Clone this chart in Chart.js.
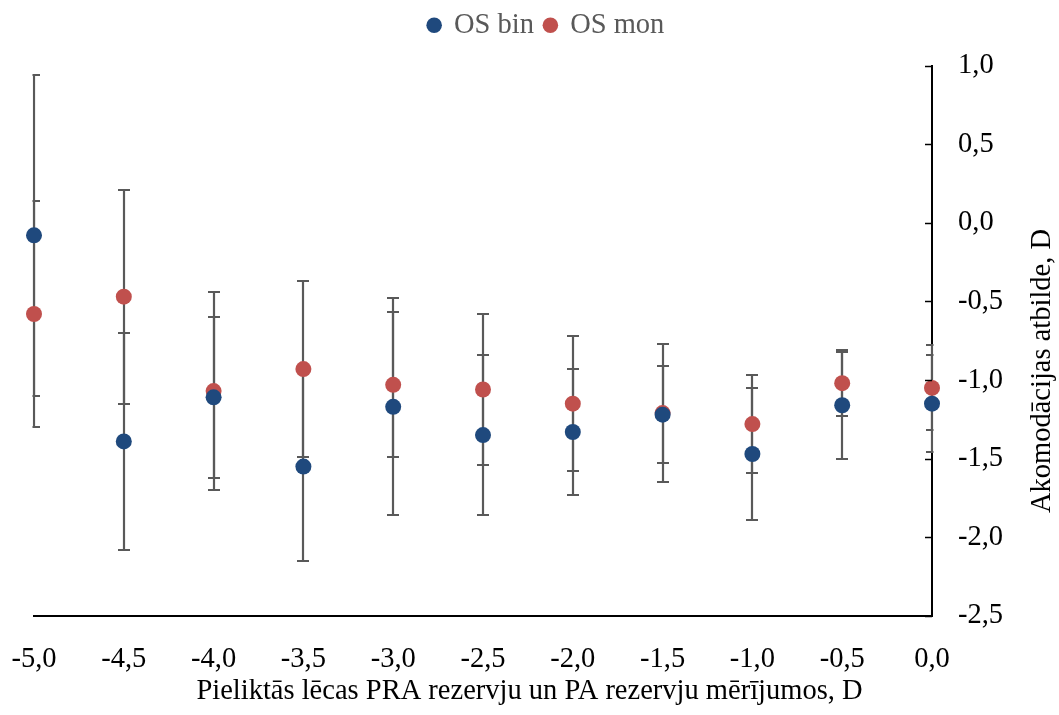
<!DOCTYPE html>
<html>
<head>
<meta charset="utf-8">
<script src="https://cdn.jsdelivr.net/npm/chart.js@4.4.1/dist/chart.umd.min.js"></script>
<style>
  html, body { margin: 0; padding: 0; background: #fff; }
</style>
</head>
<body>
<canvas id="myChart" width="1059" height="715"></canvas>
<script>
// pieliktās lēcas, D
const lenses = [-5.0, -4.5, -4.0, -3.5, -3.0, -2.5, -2.0, -1.5, -1.0, -0.5, 0.0];

// OS bin: vidējā atbilde un kļūda
const binMean = [-0.08, -1.39, -1.11, -1.55, -1.17, -1.35, -1.33, -1.22, -1.47, -1.16, -1.15];
const binErr = [1.02, 0.69, 0.51, 0.60, 0.69, 0.51, 0.40, 0.31, 0.42, 0.34, 0.31];

// OS mon
const monMean = [-0.58, -0.47, -1.07, -0.93, -1.03, -1.06, -1.15, -1.21, -1.28, -1.02, -1.05];
const monErr = [0.72, 0.68, 0.63, 0.56, 0.46, 0.48, 0.43, 0.44, 0.31, 0.21, 0.27];

const yTicks = [-2.5, -2.0, -1.5, -1.0, -0.5, 0.0, 0.5, 1.0];
const xTicks = [-5.0, -4.5, -4.0, -3.5, -3.0, -2.5, -2.0, -1.5, -1.0, -0.5, 0.0];

const xTitle = "Pieliktās lēcas PRA rezervju un PA rezervju mērījumos, D";
const yTitle = "Akomodācijas atbilde, D";

const fmt = (v) => v.toFixed(1).replace(".", ",");
const serif = "'Liberation Serif', 'Times New Roman', serif";
const fontSize = 28.5;
Chart.defaults.font.family = serif;

// error bars (clipped to plot area), drawn under the points
const errorBars = {
  id: "errorBars",
  beforeDatasetsDraw(chart) {
    const { ctx, chartArea, scales } = chart;
    ctx.save();
    ctx.beginPath();
    ctx.rect(chartArea.left - 1.5, chartArea.top, chartArea.right - chartArea.left + 3, chartArea.bottom - chartArea.top);
    ctx.clip();
    ctx.strokeStyle = "#595959";
    ctx.lineWidth = 2.2;
    chart.data.datasets.forEach((ds) => {
      ds.data.forEach((p, i) => {
        const e = ds.errors[i];
        const x = Math.round(scales.x.getPixelForValue(p.x));
        const y1 = Math.round(scales.y.getPixelForValue(p.y + e));
        const y2 = Math.round(scales.y.getPixelForValue(p.y - e));
        ctx.beginPath();
        ctx.moveTo(x, y1);
        ctx.lineTo(x, y2);
        ctx.moveTo(x - 6, y1);
        ctx.lineTo(x + 6, y1);
        ctx.moveTo(x - 6, y2);
        ctx.lineTo(x + 6, y2);
        ctx.stroke();
      });
    });
    ctx.restore();
  },
};

// inside tick marks on the right axis + axis titles
const axisExtras = {
  id: "axisExtras",
  beforeInit(chart) {
    const fit = chart.legend.fit;
    chart.legend.fit = function () {
      fit.bind(chart.legend)();
      this.height += 16;
    };
  },
  afterDraw(chart) {
    const { ctx, chartArea, scales, width } = chart;
    ctx.save();
    ctx.strokeStyle = "#000";
    ctx.lineWidth = 1.5;
    scales.y.ticks.forEach((t) => {
      const y = Math.round(scales.y.getPixelForValue(t.value)) + 0.5;
      ctx.beginPath();
      ctx.moveTo(chartArea.right - 7, y);
      ctx.lineTo(chartArea.right, y);
      ctx.stroke();
    });
    ctx.fillStyle = "#000";
    ctx.font = fontSize + "px " + serif;
    ctx.textAlign = "center";
    ctx.textBaseline = "middle";
    ctx.fillText(xTitle, width / 2, 692);
    ctx.translate(1043, 371);
    ctx.rotate(-Math.PI / 2);
    ctx.fillText(yTitle, 0, 0);
    ctx.restore();
  },
};

new Chart(document.getElementById("myChart"), {
  type: "scatter",
  data: {
    datasets: [
      {
        label: "OS bin",
        data: lenses.map((x, i) => ({ x: x, y: binMean[i] })),
        errors: binErr,
        backgroundColor: "#1F497D",
        borderColor: "#1F497D",
        borderWidth: 0,
        pointRadius: 8,
        pointHoverRadius: 8,
        clip: false,
      },
      {
        label: "OS mon",
        data: lenses.map((x, i) => ({ x: x, y: monMean[i] })),
        errors: monErr,
        backgroundColor: "#C0504D",
        borderColor: "#C0504D",
        borderWidth: 0,
        pointRadius: 8,
        pointHoverRadius: 8,
        clip: false,
      },
    ],
  },
  options: {
    responsive: false,
    animation: false,
    layout: { padding: { left: 34, top: 0, right: 0, bottom: 0 } },
    plugins: {
      tooltip: { enabled: false },
      legend: {
        position: "top",
        labels: {
          usePointStyle: true,
          pointStyle: "circle",
          boxWidth: 11,
          boxHeight: 11,
          padding: 11,
          color: "#595959",
          font: { size: fontSize, family: serif },
        },
      },
    },
    scales: {
      x: {
        type: "linear",
        min: -5,
        max: 0,
        afterBuildTicks: (s) => { s.ticks = xTicks.map((v) => ({ value: v })); },
        afterFit: (s) => { s.height = 99; },
        grid: {
          display: true,
          drawOnChartArea: false,
          drawTicks: true,
          tickLength: 16,
          tickColor: "rgba(0,0,0,0)",
        },
        border: { display: true, color: "#000", width: 2 },
        ticks: {
          padding: 10,
          color: "#000",
          font: { size: fontSize },
          maxRotation: 0,
          callback: (v) => fmt(v),
        },
      },
      y: {
        type: "linear",
        position: "right",
        min: -2.5,
        max: 1.0,
        afterBuildTicks: (s) => { s.ticks = yTicks.map((v) => ({ value: v })); },
        afterFit: (s) => { s.width = 127; },
        grid: { display: true, drawOnChartArea: false, drawTicks: false },
        border: { display: true, color: "#000", width: 2 },
        ticks: {
          padding: 26,
          color: "#000",
          font: { size: fontSize },
          callback: (v) => fmt(v),
        },
      },
    },
  },
  plugins: [errorBars, axisExtras],
});
</script>
</body>
</html>
